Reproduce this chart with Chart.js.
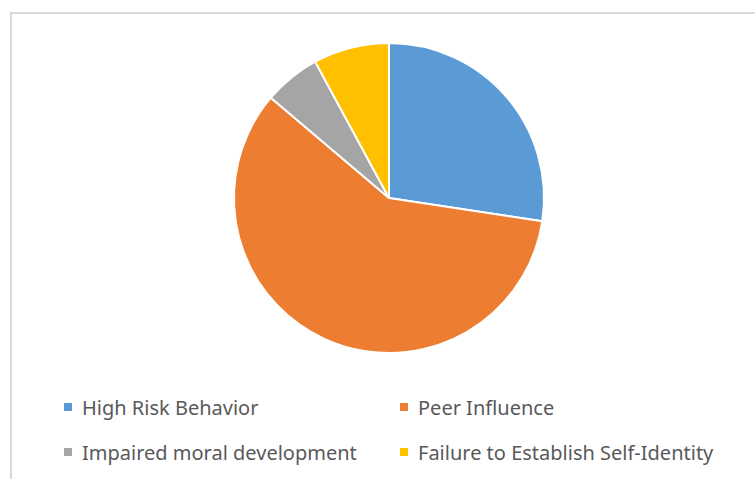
<!DOCTYPE html>
<html lang="en">
<head>
    <meta charset="UTF-8">
    <title>Pie Chart</title>
    <style>
        body {
            margin: 0;
            width: 755px;
            height: 479px;
            overflow: hidden;
            background: #fff;
            position: relative;
            font-family: "Noto Sans", Lato, sans-serif;
        }

        .frame {
            position: absolute;
            left: 10px;
            top: 12px;
            width: 800px;
            height: 520px;
            border: 2px solid #d9d9d9;
        }

        .pie-box {
            position: absolute;
            left: 219px;
            top: 28px;
            width: 340px;
            height: 340px;
        }

        .legend-item {
            position: absolute;
            height: 24px;
            display: flex;
            align-items: center;
            font-size: 20px;
            color: #595959;
            white-space: nowrap;
        }

        .legend-item .box {
            width: 8px;
            height: 8px;
            margin-right: 10px;
        }
    </style>
</head>
<body>
    <div class="frame"></div>
    <div class="pie-box"><canvas id="pieChart" width="340" height="340"></canvas></div>
    <div id="legend"></div>

    <script src="https://cdn.jsdelivr.net/npm/chart.js"></script>
    <script>
        // 데이터 (그림에서 읽은 비율, %)
        const categories = ['High Risk Behavior', 'Peer Influence', 'Impaired moral development', 'Failure to Establish Self-Identity'];
        const values = [27.4, 58.8, 5.9, 7.9];
        const colors = ['#5b9bd5', '#ed7d31', '#a5a5a5', '#ffc000'];

        const ctx = document.getElementById('pieChart').getContext('2d');

        new Chart(ctx, {
            type: 'pie',
            data: {
                labels: categories,
                datasets: [{
                    data: values,
                    backgroundColor: colors,
                    borderColor: '#ffffff',
                    borderWidth: 2,
                    hoverOffset: 0
                }]
            },
            options: {
                responsive: false,
                animation: false,
                radius: 155,
                layout: { padding: 0 },
                plugins: {
                    legend: { display: false },
                    tooltip: { enabled: false }
                }
            }
        });

        // 범례 (2열 배치)
        const legendPos = [[64, 395], [400, 395], [64, 440], [400, 440]];
        const legend = document.getElementById('legend');
        categories.forEach((name, i) => {
            const item = document.createElement('div');
            item.className = 'legend-item';
            item.style.left = legendPos[i][0] + 'px';
            item.style.top = legendPos[i][1] + 'px';
            item.innerHTML = '<span class="box" style="background:' + colors[i] + '"></span>' + name;
            legend.appendChild(item);
        });
    </script>
</body>
</html>
